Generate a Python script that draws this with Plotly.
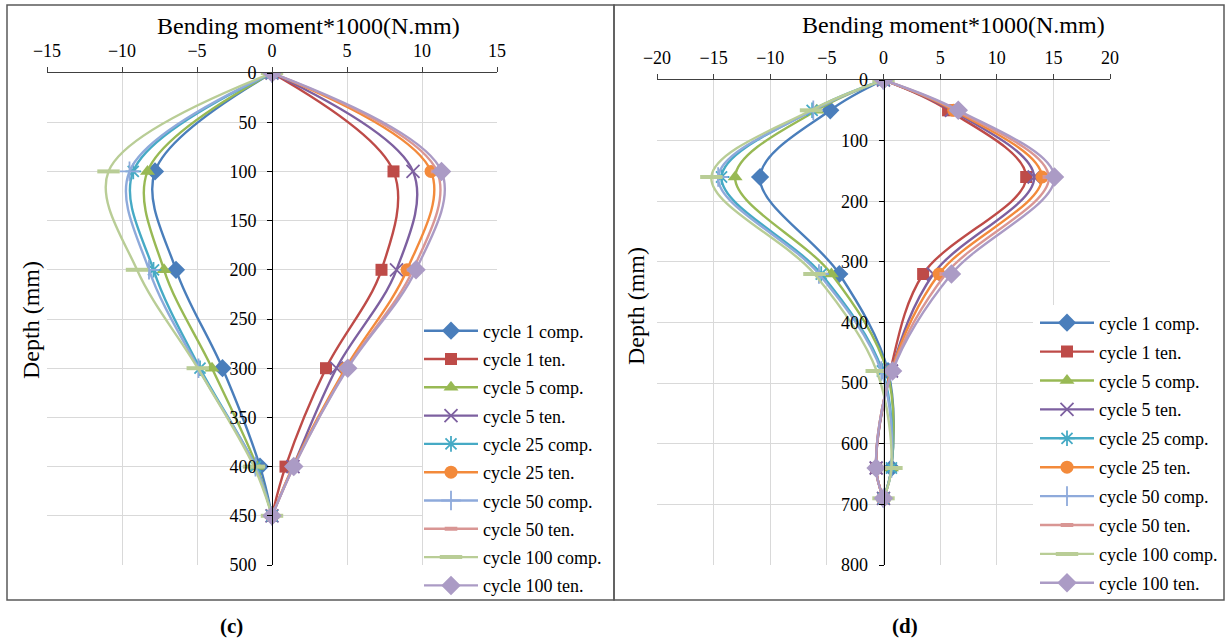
import plotly.graph_objects as go

# ---- data: bending moment (x1000 N.mm) versus depth (mm) ----
series_names = ["cycle 1 comp.", "cycle 1 ten.", "cycle 5 comp.", "cycle 5 ten.",
                "cycle 25 comp.", "cycle 25 ten.", "cycle 50 comp.", "cycle 50 ten.",
                "cycle 100 comp.", "cycle 100 ten."]

# panel (c)
depth_c = [0, 100, 200, 300, 400, 450]
c1_comp = [0, -7.8, -6.4, -3.3, -0.8, 0]
c1_ten = [0, 8.1, 7.3, 3.6, 0.9, 0]
c5_comp = [0, -8.3, -7.2, -4.0, -1.0, 0]
c5_ten = [0, 9.4, 8.3, 4.3, 1.4, 0]
c25_comp = [0, -9.25, -7.9, -4.8, -1.1, 0]
c25_ten = [0, 10.6, 9.0, 4.9, 1.4, 0]
c50_comp = [0, -9.5, -8.2, -4.9, -1.1, 0]
c50_ten = [0, 11.0, 9.4, 5.0, 1.45, 0]
c100_comp = [0, -10.9, -9.0, -4.95, -1.2, 0]
c100_ten = [0, 11.3, 9.6, 5.05, 1.45, 0]

# panel (d)
depth_d = [0, 50, 160, 320, 480, 640, 690]
d1_comp = [0, -4.7, -10.9, -3.9, 0.4, 0.7, 0]
d1_ten = [0, 5.7, 12.6, 3.5, 0.6, -0.65, 0]
d5_comp = [0, -5.9, -13.1, -4.6, 0.3, 0.7, 0]
d5_ten = [0, 6.0, 13.3, 4.4, 0.7, -0.65, 0]
d25_comp = [0, -6.3, -14.3, -5.5, -0.1, 0.7, 0]
d25_ten = [0, 6.2, 14.0, 4.9, 0.7, -0.65, 0]
d50_comp = [0, -6.2, -14.6, -5.7, -0.2, 0.7, 0]
d50_ten = [0, 6.4, 14.6, 5.5, 0.75, -0.65, 0]
d100_comp = [0, -6.4, -15.2, -6.1, -0.6, 0.7, 0]
d100_ten = [0, 6.6, 15.1, 6.0, 0.8, -0.65, 0]

panel_c = [c1_comp, c1_ten, c5_comp, c5_ten, c25_comp, c25_ten,
           c50_comp, c50_ten, c100_comp, c100_ten]
panel_d = [d1_comp, d1_ten, d5_comp, d5_ten, d25_comp, d25_ten,
           d50_comp, d50_ten, d100_comp, d100_ten]

# ---- styles ----
colors = ["#4A7EBB", "#BE4B48", "#98B954", "#7D60A0", "#46AAC5",
          "#F38A3B", "#8EAADB", "#D99694", "#B9CD96", "#AB9BC5"]
symbols = ["diamond", "square", "triangle-up", "x-thin", "asterisk",
           "circle", "cross-thin", "line-ew", "line-ew", "diamond"]
sizes = [14, 12, 13, 13, 13, 13, 14, 9, 16, 15]
open_symbol = {"x-thin", "asterisk", "cross-thin", "line-ew"}

FONT = "Liberation Serif"
W, H = 1226, 643

# plot areas in page pixels: (left, right, top, bottom)
AREA_C = (47, 497, 73, 565)
AREA_D = (657, 1110, 80, 565)
XR_C, YR_C = (-15, 15), (0, 500)
XR_D, YR_D = (-20, 20), (0, 800)


def px(x):
    return x / W


def py(y):
    return 1 - y / H


def to_data(X, Y, area, xr, yr):
    """Convert a page pixel to the data coordinates of a panel."""
    l, r, t, b = area
    return (xr[0] + (X - l) / (r - l) * (xr[1] - xr[0]),
            yr[0] + (Y - t) / (b - t) * (yr[1] - yr[0]))


fig = go.Figure()


def legend_mask(x0, y0, area, xr, yr, xa, ya):
    """White block under the legend so the gridlines stop at its edge."""
    pts = [to_data(X, Y, area, xr, yr) for X, Y in
           [(x0, y0), (area[1] + 5, y0), (area[1] + 5, area[3] + 5), (x0, area[3] + 5), (x0, y0)]]
    fig.add_trace(go.Scatter(x=[p[0] for p in pts], y=[p[1] for p in pts],
                             mode="lines", fill="toself", fillcolor="white",
                             line=dict(width=0, color="white"), hoverinfo="skip",
                             showlegend=False, xaxis=xa, yaxis=ya))


legend_mask(423, 313, AREA_C, XR_C, YR_C, "x", "y")
legend_mask(1033, 305, AREA_D, XR_D, YR_D, "x2", "y2")

for i, name in enumerate(series_names):
    sym = symbols[i]
    mk = dict(symbol=sym, size=sizes[i], color=colors[i])
    if sym in open_symbol:
        mk["line"] = dict(color=colors[i], width=4 if sym == "line-ew" else 1.8)
    else:
        mk["line"] = dict(width=0)
    fig.add_trace(go.Scatter(
        x=panel_c[i], y=depth_c, name=name, mode="lines+markers",
        line=dict(color=colors[i], width=2.4, shape="spline", smoothing=1.0),
        marker=mk, xaxis="x", yaxis="y", legend="legend",
        legendgroup="c%d" % i))
    fig.add_trace(go.Scatter(
        x=panel_d[i], y=depth_d, name=name, mode="lines+markers",
        line=dict(color=colors[i], width=2.4, shape="spline", smoothing=1.0),
        marker=mk, xaxis="x2", yaxis="y2", legend="legend2",
        legendgroup="d%d" % i))

dom_x1 = [px(AREA_C[0]), px(AREA_C[1])]
dom_y1 = [py(AREA_C[3]), py(AREA_C[2])]
dom_x2 = [px(AREA_D[0]), px(AREA_D[1])]
dom_y2 = [py(AREA_D[3]), py(AREA_D[2])]

tickfont = dict(family=FONT, size=18, color="black")
grid = "#D9D9D9"

xaxis_common = dict(side="top", showgrid=True, gridcolor=grid, zeroline=False,
                    showline=True, linecolor="#404040", linewidth=1,
                    ticks="outside", ticklen=5, tickcolor="#404040",
                    tickfont=tickfont, automargin=False, ticklabelstandoff=3)
yaxis_common = dict(autorange=False, showgrid=True, gridcolor=grid, zeroline=False,
                    showline=True, linecolor="black", linewidth=1,
                    ticks="outside", ticklen=5, tickcolor="black",
                    tickfont=tickfont, anchor="free", automargin=False,
                    ticklabelstandoff=7)

legend_common = dict(xanchor="left", yanchor="top", bgcolor="rgba(0,0,0,0)",
                     borderwidth=0, itemwidth=54,
                     font=dict(family=FONT, size=18, color="black"))

fig.update_layout(
    width=W, height=H,
    margin=dict(l=0, r=0, t=0, b=0, autoexpand=False),
    paper_bgcolor="white", plot_bgcolor="white",
    font=dict(family=FONT, color="black"),
    xaxis=dict(xaxis_common, domain=dom_x1, range=list(XR_C), dtick=5, anchor="y"),
    yaxis=dict(yaxis_common, domain=dom_y1, range=[YR_C[1], YR_C[0]], dtick=50,
               position=(dom_x1[0] + dom_x1[1]) / 2),
    xaxis2=dict(xaxis_common, domain=dom_x2, range=list(XR_D), dtick=5, anchor="y2"),
    yaxis2=dict(yaxis_common, domain=dom_y2, range=[YR_D[1], YR_D[0]], dtick=100,
                position=(dom_x2[0] + dom_x2[1]) / 2),
    legend=dict(legend_common, x=px(419), y=py(312.5), tracegroupgap=1.9),
    legend2=dict(legend_common, x=px(1035), y=py(304.5), tracegroupgap=2.5),
)

# axis titles (centred on each chart area) and panel captions
for x, y, txt, ang in [(308, 26, "Bending moment*1000(N.mm)", 0),
                       (953, 25, "Bending moment*1000(N.mm)", 0),
                       (31, 320, "Depth (mm)", -90),
                       (636, 306, "Depth (mm)", -90)]:
    fig.add_annotation(x=px(x), y=py(y), xref="paper", yref="paper",
                       xanchor="center", yanchor="middle", text=txt,
                       textangle=ang, showarrow=False,
                       font=dict(family=FONT, size=24, color="black"))
for x, txt in [(231, "<b>(c)</b>"), (905, "<b>(d)</b>")]:
    fig.add_annotation(x=px(x), y=py(626), xref="paper", yref="paper",
                       xanchor="center", yanchor="middle", text=txt,
                       showarrow=False, font=dict(family=FONT, size=21, color="black"))

# panel frames
for x0, x1 in [(7, 614), (614, 1224)]:
    fig.add_shape(type="rect", xref="paper", yref="paper",
                  x0=px(x0), x1=px(x1), y0=py(600), y1=py(5),
                  line=dict(color="#595959", width=1.5), layer="above")

fig.write_html("out.html")
